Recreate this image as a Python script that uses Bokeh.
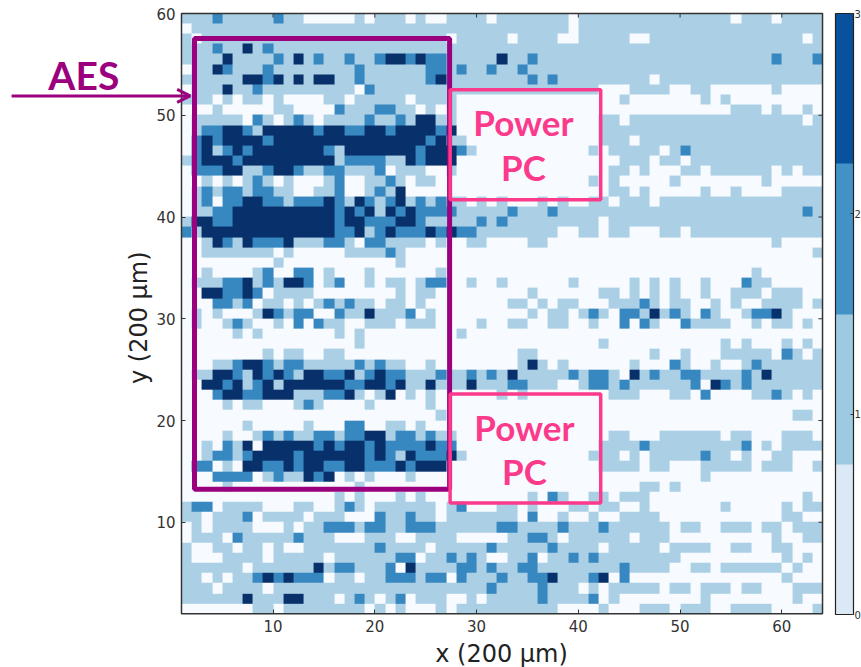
import math
import numpy as np
from bokeh.plotting import figure
from bokeh.models import (LinearColorMapper, ColorBar, FixedTicker, BoxAnnotation, Label, Arrow,
                          OpenHead, Range1d)
from bokeh.embed import file_html
from bokeh.resources import INLINE

# rows from y=60 (top) down to y=1; each char is the binned level of one cell, x=1..63
rows = [
"1112111112 1100000101 1101001111 0111111101 1111111111 1111011101 111",
"0111111111 1111111111 1111111111 1111111101 1111111111 1111111111 111",
"1011111111 1111111111 1111110111 1101111001 1111001111 1111111111 101",
"1112113121 1111111111 1111111111 1111111111 1111111111 1111111111 111",
"1111311112 1312112112 3323221111 1311211111 1111111111 1111111121 112",
"0113211121 1111111211 1111221211 2112111111 1111111111 1111111111 111",
"1111113323 1313311211 1111231111 1111212111 1111110111 1111111111 111",
"0111311211 1111111021 1111111111 1111111111 1000111100 1100000010 000",
"1110101101 0000110111 1101111000 0000000000 0001000000 0101000000 000",
"0001000001 1000021112 2110101000 0000000000 0000000000 0000111010 010",
"0111110210 1210111121 1213311000 0000000000 0110111111 1111111111 101",
"0122332133 3332332233 2333323000 0000000000 0111111111 1111111111 111",
"0232333323 3333333333 3333231100 0000000000 0111011111 1111111111 111",
"0231232333 3333213333 3332333210 0000000000 1011111012 1111111111 111",
"1233323333 3333312222 1132333000 0000000000 0001110110 1111111111 111",
"0222331123 3211221112 0111001000 0000000000 0011010001 1011111101 011",
"0010101210 1000120011 2101100000 0000000000 1010000010 0000000100 000",
"0121221221 1001120012 1300000000 0000000000 0011010000 0100100001 111",
"0120223322 1222321321 2312121101 0100010100 1101110111 1111111111 111",
"0112233333 3333323231 3232222111 1121112111 1111111111 1111111111 121",
"1332233333 3333323322 2332111112 1211111111 1011111111 1111111111 111",
"2133333333 3333322312 3222323221 1111111001 1011000110 1111111111 111",
"0013213222 3111221022 1111010011 0000110000 0000000000 0000000010 000",
"0011111110 1000001111 2100000000 0000000000 0000000000 0000000000 001",
"0000000001 0000000000 0100000000 0000000000 0000000000 0000000000 000",
"0010000120 0220100010 0000010000 0000000000 0000000000 0000001000 000",
"0111223121 3320120010 1101220010 0100000010 0000101010 0100021100 000",
"0033223201 1110000000 0101100000 0000100000 0110101010 0100111011 100",
"0002212011 0101212110 1101000000 0011010110 0011121011 0010100111 101",
"0101000132 1220021131 1120100000 0000101101 2102213121 0210012231 000",
"0100121001 0202110011 1011100001 0011001100 1002021002 1111001011 010",
"0000010100 0000010100 0000000100 0000000000 0000000000 0000000000 000",
"0000000000 0000000100 0000000000 0000000000 0100000000 0001010001 010",
"0000000010 1100110000 0000000000 0001100000 0000001001 0001111102 101",
"0001123321 2211111212 1100100000 0001310100 0000100021 0010012111 111",
"0113321323 2133223123 2211121121 2131111121 2210312112 2111121311 111",
"0033231231 3333332233 2311311131 1122111001 2212111111 2032121111 111",
"0002332233 3111223101 3010100000 0101000000 0011100011 0200001121 010",
"0000101100 0121000010 0000100000 0000000000 0000000000 0000000000 000",
"0000000000 0000000000 0000010000 0000000000 0000000000 0000000000 110",
"0000001000 0010002200 1101000000 0000000000 0000000000 0000000000 000",
"0000100121 2112212233 1221211000 0000000000 0011000111 1110110001 110",
"0010213033 3332323323 2222322000 0000000000 0111121111 1111120101 111",
"0012212333 3233333323 2132223100 0000000000 1110101111 1211010011 000",
"0220103322 3233223322 2323330000 0000000000 0111101100 0111110111 001",
"0002222012 1132301010 0010000000 0000000000 0000000000 0100000000 000",
"0000100000 0000000100 0000000000 0000000000 0000011010 0000000000 000",
"0000000000 0000010100 0101000000 0000102100 1101110000 0000000000 010",
"1220111100 0110012101 1111101200 0110100011 0110010000 0001000001 011",
"1101112011 1101110002 1121101111 1110200100 1001111000 0000000001 100",
"0101111000 1011222122 1122211111 1221111211 1211111101 1001110110 111",
"0111021111 1211100011 1001111000 0011221011 1111011100 0000000010 011",
"1001101101 0011111112 1111011111 2111112111 1011111011 1100110011 000",
"1000111101 1111011111 1220112121 0011201121 2111111110 0000000001 010",
"1111110111 1113122111 2031111221 2112211111 1112111100 1101111110 100",
"1101011232 3222011011 2221220211 1211223111 2302000000 0000000001 000",
"1110111101 1111111111 1111111111 2111121110 1011111011 0111011000 111",
"1111113111 3311101210 1201110010 1111121111 2010000000 0100000000 100",
"0000000110 1111111101 0100010111 1111111000 0100011101 1100111100 001",
]
cell_palette = ["#f7fbff", "#abd0e6", "#3787c0", "#08306b"]
bar_palette = ["#dbe9f6", "#9ecae1", "#4292c6", "#08519c"]
ticks = [10, 20, 30, 40, 50, 60]
bar_ticks = [0, 1, 2, 3]
PURPLE = "#9b007f"
PINK = "#fb3a8b"

grid = np.array([[int(c) for c in r.replace(" ", "")] for r in rows], dtype=float)[::-1]

# the frame fills the page, so that the arrow and AES can sit left of the heatmap
PX = 10.175
p = figure(width=861, height=667, frame_width=861, frame_height=667,
           x_range=Range1d(1 - 181 / PX, 1 + (861 - 181) / PX),
           y_range=Range1d(60 - (667 - 13) / PX, 60 + 13 / PX),
           output_backend="svg", toolbar_location=None,
           min_border=0, background_fill_color="white", outline_line_color=None)
p.grid.visible = False
mapper = LinearColorMapper(palette=cell_palette, low=-0.5, high=3.5)
p.image(image=[grid], x=1, y=1, dw=63, dh=59, color_mapper=mapper)

p.xaxis[0].fixed_location = 1
p.yaxis[0].fixed_location = 1
for ax in (p.xaxis[0], p.yaxis[0]):
    ax.ticker = FixedTicker(ticks=ticks)
    ax.major_tick_in = 4
    ax.major_tick_out = 0
    ax.minor_tick_line_color = None
    ax.axis_line_color = None
    ax.major_tick_line_color = "#333333"
    ax.major_label_text_font = "DejaVu Sans"
    ax.major_label_text_font_size = "15px"
    ax.major_label_text_color = "#333333"
    ax.major_label_standoff = 6

for x, y, t, a in ((32.45, -2.9, "x (200 \u03bcm)", 0), (-3.2, 30.1, "y (200 \u03bcm)", math.pi / 2)):
    p.add_layout(Label(x=x, y=y, text=t, angle=a, text_font="DejaVu Sans", text_font_size="24px",
                       text_color="#222222", text_align="center", text_baseline="middle"))

# frame of the heatmap, inward ticks on its top and right edges
p.add_layout(BoxAnnotation(left=1, right=64, top=60, bottom=1, fill_alpha=0,
                           line_color="#333333", line_width=1.5, line_alpha=1))
n = len(ticks)
p.segment(x0=ticks, x1=ticks, y0=[60] * n, y1=[59.6] * n, line_color="#333333", line_width=1)
p.segment(x0=[64] * n, x1=[63.6] * n, y0=ticks, y1=ticks, line_color="#333333", line_width=1)

bar = ColorBar(color_mapper=LinearColorMapper(palette=bar_palette, low=0, high=3),
               ticker=FixedTicker(ticks=bar_ticks), width=18, height=601,
               margin=0, padding=0, label_standoff=1, major_tick_in=3,
               major_label_text_font="DejaVu Sans", major_label_text_font_size="10px",
               major_label_text_color="#333333",
               bar_line_color="#222222", bar_line_width=1.2, major_tick_line_color="#333333",
               location=(835, 53), background_fill_alpha=0, border_line_color=None)
p.add_layout(bar)

p.add_layout(BoxAnnotation(left=2.28, right=27.35, top=57.54, bottom=13.25, fill_alpha=0,
                           line_color=PURPLE, line_width=5, line_alpha=1))
for bottom, top in ((41.7, 52.5), (11.9, 22.6)):
    p.add_layout(BoxAnnotation(left=27.4, right=42.2, top=top, bottom=bottom, fill_alpha=0,
                               line_color=PINK, line_width=3.5, line_alpha=1))
for x, y, t in ((34.6, 49.3, "Power"), (34.6, 44.9, "PC"), (34.7, 19.4, "Power"), (34.7, 15.0, "PC")):
    p.add_layout(Label(x=x, y=y, text=t, text_color=PINK, text_font="Lato", text_font_style="bold",
                       text_font_size="35px", text_align="center", text_baseline="middle"))
p.add_layout(Label(x=-8.6, y=53.95, text="AES", text_color=PURPLE, text_font="Lato",
                   text_font_style="bold", text_font_size="39px", text_align="center",
                   text_baseline="middle"))
p.add_layout(Arrow(end=OpenHead(size=13, line_color=PURPLE, line_width=3),
                   x_start=-15.7, y_start=51.9, x_end=1.85, y_end=51.9,
                   line_color=PURPLE, line_width=3))

open("out.html", "w").write(file_html(p, INLINE))
